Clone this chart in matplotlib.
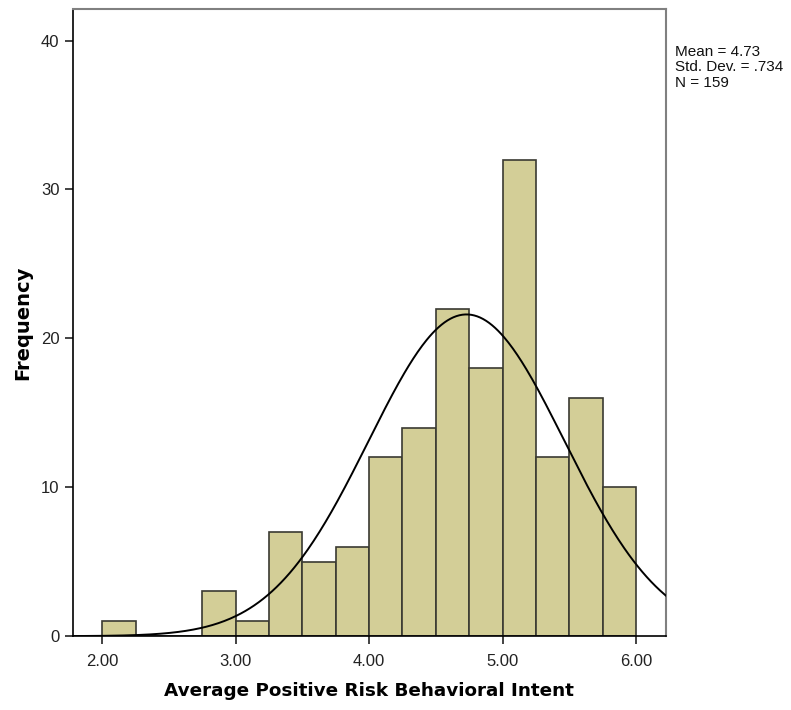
import numpy as np
import matplotlib.pyplot as plt

plt.rcParams["font.family"] = ["Liberation Sans", "DejaVu Sans"]

# histogram bins (width .25) and counts
bin_edges = [2.00, 2.25, 2.50, 2.75, 3.00, 3.25, 3.50, 3.75, 4.00,
             4.25, 4.50, 4.75, 5.00, 5.25, 5.50, 5.75, 6.00]
counts = [1, 0, 0, 3, 1, 7, 5, 6, 12, 14, 22, 18, 32, 12, 16, 10]

mean = 4.73
std = 0.734
n = 159

x_ticks = [2.0, 3.0, 4.0, 5.0, 6.0]
x_tick_labels = ["2.00", "3.00", "4.00", "5.00", "6.00"]
y_ticks = [0, 10, 20, 30, 40]

fig = plt.figure(figsize=(7.91, 7.10), dpi=100)
ax = fig.add_axes([0.092, 0.104, 0.750, 0.883])

lefts = np.array(bin_edges[:-1])
widths = np.diff(bin_edges)
ax.bar(lefts, counts, width=widths, align="edge", color="#D3CE97",
       edgecolor="#3a3a32", linewidth=1.2, zorder=2)

# normal curve scaled to counts
xmin, xmax = 1.78, 6.225
xs = np.linspace(xmin, xmax, 400)
bw = widths[0]
ys = n * bw * np.exp(-0.5 * ((xs - mean) / std) ** 2) / (std * np.sqrt(2 * np.pi))
ax.plot(xs, ys, color="black", linewidth=1.4, zorder=3)

ax.set_xlim(xmin, xmax)
ax.set_ylim(0, 42.1)
ax.set_xticks(x_ticks)
ax.set_xticklabels(x_tick_labels)
ax.set_yticks(y_ticks)
ax.tick_params(axis="both", direction="out", length=6, width=1.2,
               labelsize=12, colors="#222222")
ax.tick_params(axis="x", pad=7)

for side in ["left", "bottom"]:
    ax.spines[side].set_color("black")
    ax.spines[side].set_linewidth(1.2)
for side in ["top", "right"]:
    ax.spines[side].set_color("#808080")
    ax.spines[side].set_linewidth(1.5)

ax.set_xlabel("Average Positive Risk Behavioral Intent", fontsize=13.2,
              fontweight="bold", family="DejaVu Sans", labelpad=9)
ax.set_ylabel("Frequency", fontsize=14, fontweight="bold",
              family="DejaVu Sans", labelpad=6)

fig.text(0.853, 0.937, f"Mean = {mean:.2f}\nStd. Dev. = .734\nN = {n}",
         fontsize=11, va="top", ha="left", color="#111111", linespacing=1.15)

fig.savefig("out.png", dpi=100)
